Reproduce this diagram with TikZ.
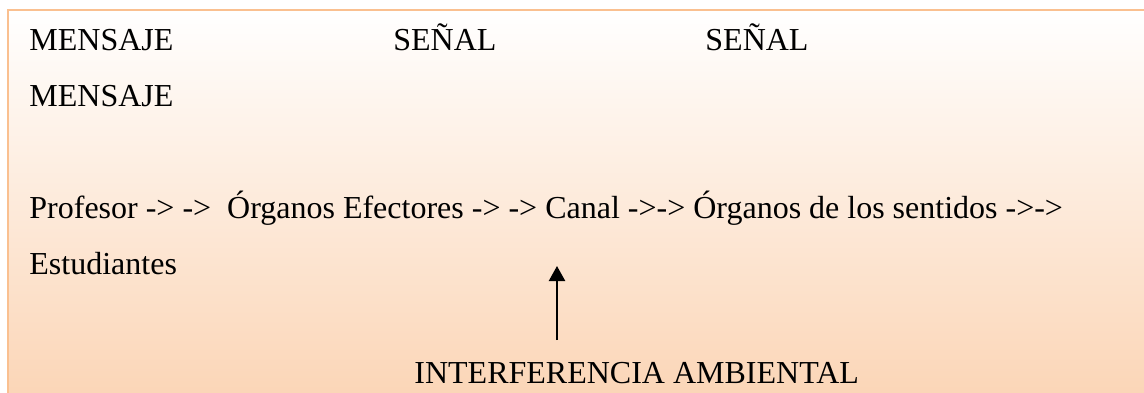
\documentclass[tikz,border=0pt]{standalone}
\usepackage{fontspec}
\setmainfont{Liberation Serif}
\usetikzlibrary{arrows.meta, positioning}
\tikzset{>=stealth}
\definecolor{boxline}{RGB}{250,192,144}
\definecolor{boxtop}{RGB}{255,255,255}
\definecolor{boxbottom}{RGB}{251,212,180}

\begin{document}
\begin{tikzpicture}[x=1pt, y=-1pt, thick,
    txt/.style={anchor=base west, inner sep=0pt, font=\fontsize{32}{38}\selectfont}]
  \useasboundingbox (0,0) rectangle (1144,392);
  \clip (0,0) rectangle (1144,392);
  % background box
  \shade[top color=boxtop, bottom color=boxbottom] (8,10) rectangle (1160,410);
  \draw[boxline, line width=2.5pt] (8,410) -- (8,10) -- (1160,10);
  % text lines
  \node[txt] (msg1)  at (29,50)  {MENSAJE};
  \node[txt] (sig1)  at (393,50) {SEÑAL};
  \node[txt] (sig2)  at (705,50) {SEÑAL};
  \node[txt] (msg2)  at (29,106) {MENSAJE};
  \node[txt] (chain) at (29,218) {Profesor -> ->\ \ Órganos Efectores -> -> Canal ->-> Órganos de los sentidos ->->};
  \node[txt] (stud)  at (29,274) {Estudiantes};
  \node[txt] (noise) at (414,383) {INTERFERENCIA AMBIENTAL};
  \coordinate (foot) at (557,340);
  \coordinate (tip)  at (557,266);
  \draw[-{Triangle[width=16pt,length=15pt]}, line width=2.3pt] (foot) -- (tip);
\end{tikzpicture}
\end{document}
